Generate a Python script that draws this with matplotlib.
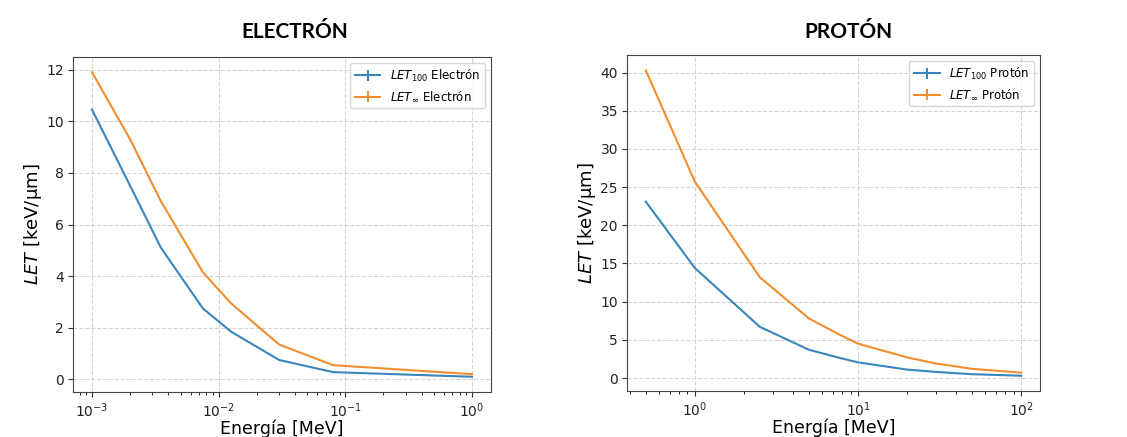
import numpy as np
import matplotlib.pyplot as plt

# Electron data (energy in MeV, LET in keV/um)
e_energy = [1e-3, 2e-3, 3.5e-3, 7.5e-3, 1.25e-2, 3e-2, 8e-2, 1.0]
e_let100 = [10.45, 7.5, 5.1, 2.75, 1.85, 0.75, 0.28, 0.1]
e_letinf = [11.9, 9.3, 6.9, 4.15, 2.95, 1.35, 0.55, 0.2]

# Proton data
p_energy = [0.5, 1.0, 2.5, 5.0, 7.5, 10.0, 20.0, 30.0, 50.0, 100.0]
p_let100 = [23.1, 14.4, 6.7, 3.7, 2.7, 2.05, 1.1, 0.8, 0.5, 0.3]
p_letinf = [40.3, 25.7, 13.2, 7.8, 5.8, 4.5, 2.7, 1.9, 1.2, 0.7]

fig = plt.figure(figsize=(11.27, 4.37), dpi=100)
ax1 = fig.add_axes([73 / 1127, 1 - 392 / 437, 418 / 1127, 335 / 437])
ax2 = fig.add_axes([627 / 1127, 1 - 391 / 437, 413 / 1127, 336 / 437])

panels = [
    (ax1, e_energy, e_let100, e_letinf, "Electrón", "ELECTRÓN", 295),
    (ax2, p_energy, p_let100, p_letinf, "Protón", "PROTÓN", 848),
]

for ax, x, y100, yinf, name, title, tx in panels:
    ax.errorbar(x, y100, yerr=np.zeros(len(x)), color="#3a85bb",
                label=r"$LET_{100}$ " + name)
    ax.errorbar(x, yinf, yerr=np.zeros(len(x)), color="#f28e2f",
                label=r"$LET_{\infty}$ " + name)
    ax.set_xscale("log")
    ax.grid(True, which="major", linestyle="--", color="#d4d4d4", linewidth=0.8)
    ax.set_xlabel("Energía [MeV]", fontsize=12.5, labelpad=0)
    ax.set_ylabel(r"$LET$ [keV/μm]", fontsize=13, labelpad=2)
    ax.tick_params(labelsize=10, colors="#333333", labelcolor="#222222", pad=3)
    for s in ax.spines.values():
        s.set_color("#444444")
    ax.legend(loc="upper right", fontsize=8.5, handlelength=2.2)
    fig.text(tx / 1127, 1 - 32 / 437, title, ha="center", va="center",
             fontsize=15, fontweight="bold", family="Lato")

fig.savefig("out.png", dpi=100)
